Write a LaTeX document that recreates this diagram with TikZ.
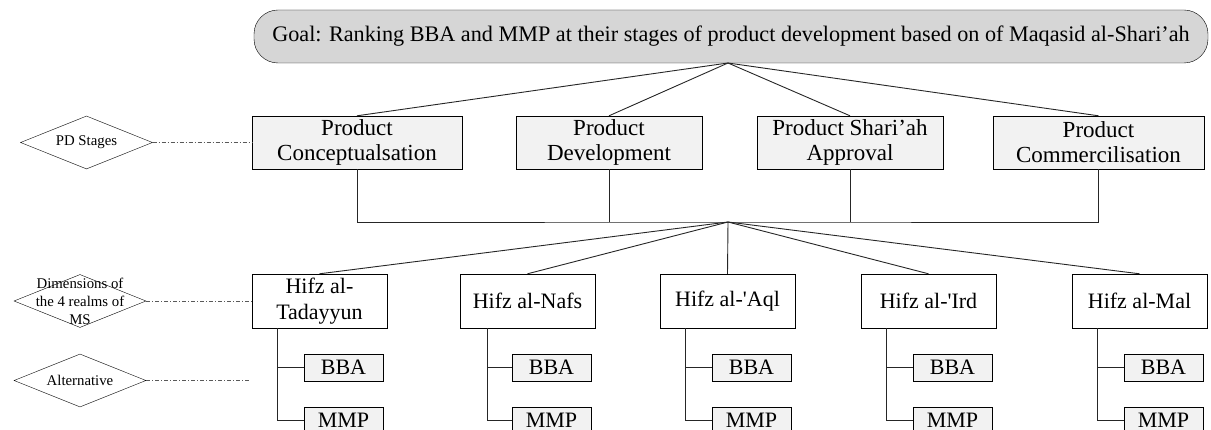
\documentclass[tikz,border=0pt]{standalone}
\usepackage{fontspec}
\setmainfont{Liberation Serif}
\usetikzlibrary{shapes.geometric}
\definecolor{goalgray}{HTML}{D6D6D6}
\definecolor{boxgray}{HTML}{F2F2F2}
\begin{document}
\begin{tikzpicture}[x=1pt,y=-1pt,
    every node/.style={inner sep=0pt,align=center},
    goalbox/.style={draw,fill=goalgray,rounded corners=24pt,minimum width=954pt,minimum height=53pt,font=\fontsize{22.2}{26}\selectfont},
    stagebox/.style={draw,fill=boxgray,minimum height=53pt,font=\fontsize{23}{25}\selectfont},
    realmbox/.style={draw,fill=white,minimum width=135pt,minimum height=54pt,font=\fontsize{22}{26}\selectfont},
    altbox/.style={draw,fill=boxgray,minimum width=79pt,minimum height=27pt,font=\fontsize{22}{24}\selectfont},
    legend/.style={draw,diamond,aspect=2.47,minimum width=132pt,minimum height=53pt},
    legendtext/.style={font=\fontsize{14.8}{18}\selectfont},
    guide/.style={draw=black!65,line width=0.8pt,dash pattern=on 4pt off 2pt on 1pt off 2pt},
    link/.style={draw=black!85,line width=0.9pt}]
  \useasboundingbox (0,0) rectangle (1211,430);
  \draw
    (731,36.5) node[goalbox] (goal){Goal: Ranking BBA and MMP at their stages of product development based on of Maqasid al-Shari’ah}
    (357,142.5) node[stagebox,minimum width=210pt] (s1){Product\\Conceptualsation}
    (609,142.5) node[stagebox,minimum width=186pt] (s2){Product\\Development}
    (850,142.5) node[stagebox,minimum width=186pt] (s3){Product Shari’ah\\Approval}
    (1098.5,142.5) node[stagebox,minimum width=211pt] (s4){Product\\Commercilisation}
    (319.5,301) node[realmbox] (r1){Hifz al-\\Tadayyun}
    (527.5,301) node[realmbox] (r2){Hifz al-Nafs}
    (727.5,301) node[realmbox] (r3){Hifz al-\textquotesingle Aql}
    (928.5,301) node[realmbox] (r4){Hifz al-\textquotesingle Ird}
    (1139.5,301) node[realmbox] (r5){Hifz al-Mal}
    (343.5,367.5) node[altbox] (b1){BBA}
    (551.5,367.5) node[altbox] (b2){BBA}
    (751.5,367.5) node[altbox] (b3){BBA}
    (952.5,367.5) node[altbox] (b4){BBA}
    (1163.5,367.5) node[altbox] (b5){BBA}
    (343.5,420.5) node[altbox] (m1){MMP}
    (551.5,420.5) node[altbox] (m2){MMP}
    (751.5,420.5) node[altbox] (m3){MMP}
    (952.5,420.5) node[altbox] (m4){MMP}
    (1163.5,420.5) node[altbox] (m5){MMP}
    (86.5,142.5) node[legend,label={[legendtext]center:PD Stages}] (d1){}
    (80,301) node[legend,label={[legendtext]center:{Dimensions of\\the 4 realms of\\MS}}] (d2){}
    (80,380.5) node[legend,label={[legendtext]center:Alternative}] (d3){};
  \coordinate (apex) at (728,63);
  \coordinate (hub) at (728,222);
  \coordinate (altend) at (250,380.5);
  \begin{scope}[link]
    \draw (apex) to (s1.north);
    \draw (apex) to (s2.north);
    \draw (apex) to (s3.north);
    \draw (apex) to (s4.north);
    \draw (s1.south) |- (hub) -| (s4.south);
    \draw (s2.south) to (s2.south |- hub);
    \draw (s3.south) to (s3.south |- hub);
    \draw (hub) to (r1.north);
    \draw (hub) to (r2.north);
    \draw (hub) to (r3.north);
    \draw (hub) to (r4.north);
    \draw (hub) to (r5.north);
    \draw ([xshift=26pt]r1.south west) |- (b1.west) ([xshift=26pt]r1.south west) |- (m1.west);
    \draw ([xshift=28pt]r2.south west) |- (b2.west) ([xshift=28pt]r2.south west) |- (m2.west);
    \draw ([xshift=26pt]r3.south west) |- (b3.west) ([xshift=26pt]r3.south west) |- (m3.west);
    \draw ([xshift=26pt]r4.south west) |- (b4.west) ([xshift=26pt]r4.south west) |- (m4.west);
    \draw ([xshift=26pt]r5.south west) |- (b5.west) ([xshift=26pt]r5.south west) |- (m5.west);
  \end{scope}
  \begin{scope}[guide]
    \draw (d1.east) to (s1.west);
    \draw (d2.east) to (r1.west);
    \draw (d3.east) to (altend);
  \end{scope}
\end{tikzpicture}
\end{document}
